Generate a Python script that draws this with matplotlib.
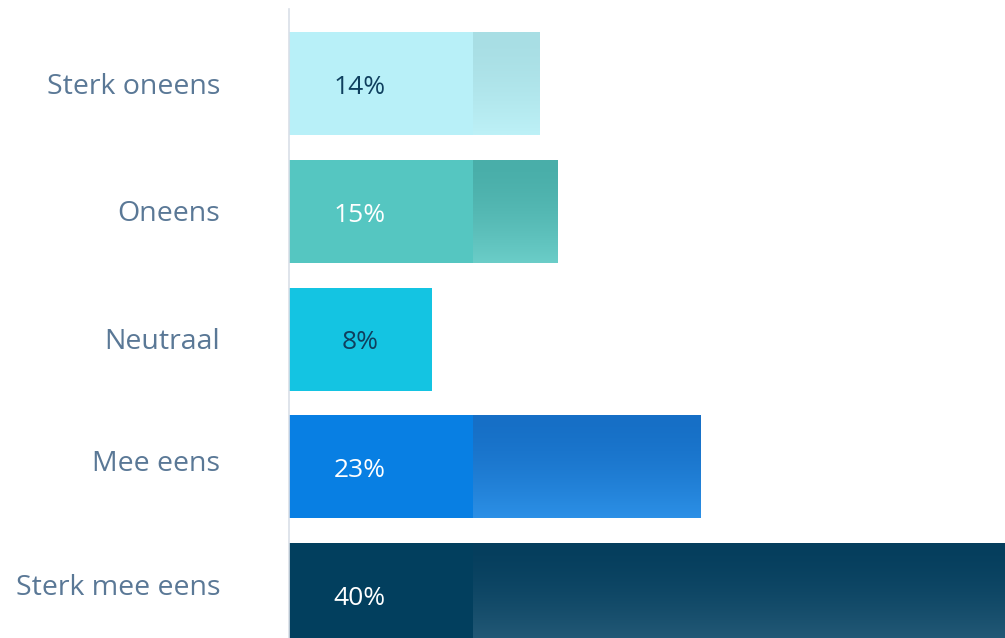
import numpy as np
import matplotlib.pyplot as plt
from matplotlib.colors import to_rgb

categories = ["Sterk oneens", "Oneens", "Neutraal", "Mee eens", "Sterk mee eens"]
values = [14, 15, 8, 23, 40]
labels = ["14%", "15%", "8%", "23%", "40%"]

base_colors = ["#B8F0F8", "#55C6C1", "#14C4E2", "#087FE3", "#023F5E"]
# grainy part of each bar fades from the first colour (top) to the second (bottom)
fade_colors = [("#A8DEE4", "#BDF1F7"), ("#49AEA9", "#6BCDC8"), ("#14C4E2", "#14C4E2"),
               ("#166FC6", "#2C90E6"), ("#053E5D", "#265C79")]
text_colors = ["#0F3F5E", "#FFFFFF", "#0F3F5E", "#FFFFFF", "#FFFFFF"]

plt.rcParams['font.family'] = ['Open Sans', 'DejaVu Sans']

fig = plt.figure(figsize=(10.05, 6.38), dpi=100)
ax = fig.add_axes([289 / 1005, 0, 716 / 1005, 1 - 9 / 638])

pos = np.arange(len(categories))
h = 0.806
ax.barh(pos, values, height=h, color=base_colors, zorder=2)

fade_start = 10.3
for i, v in enumerate(values):
    if v <= fade_start:
        continue
    top, bot = np.array(to_rgb(fade_colors[i][0])), np.array(to_rgb(fade_colors[i][1]))
    t = np.linspace(0, 1, 100) ** 1.6
    grad = (top[None, :] * (1 - t[:, None]) + bot[None, :] * t[:, None])[:, None, :]
    ax.imshow(grad, extent=(fade_start, v, i + h / 2, i - h / 2), origin='upper',
              aspect='auto', interpolation='bilinear', zorder=3)

for i, (v, lab) in enumerate(zip(values, labels)):
    ax.text(3.95, i + 0.03, lab, ha='center', va='center', fontsize=19,
            color=text_colors[i], zorder=4)

# category names, the lower ones sit slightly above their bar centres
name_shift = [0.03, 0.02, 0.02, -0.02, -0.055]
for i, name in enumerate(categories):
    ax.text(-69 / 716, i + name_shift[i], name, transform=ax.get_yaxis_transform(),
            ha='right', va='center', fontsize=20.5, color="#5A7896")

ax.set_xlim(0, 40)
ax.set_ylim(4.34, -0.583)
ax.set_yticks([])
ax.set_xticks([])
for side in ['top', 'right', 'bottom']:
    ax.spines[side].set_visible(False)
ax.spines['left'].set_color("#D9DFE8")
ax.spines['left'].set_linewidth(1.2)
ax.spines['left'].set_zorder(5)

fig.savefig("out.png", dpi=100)
